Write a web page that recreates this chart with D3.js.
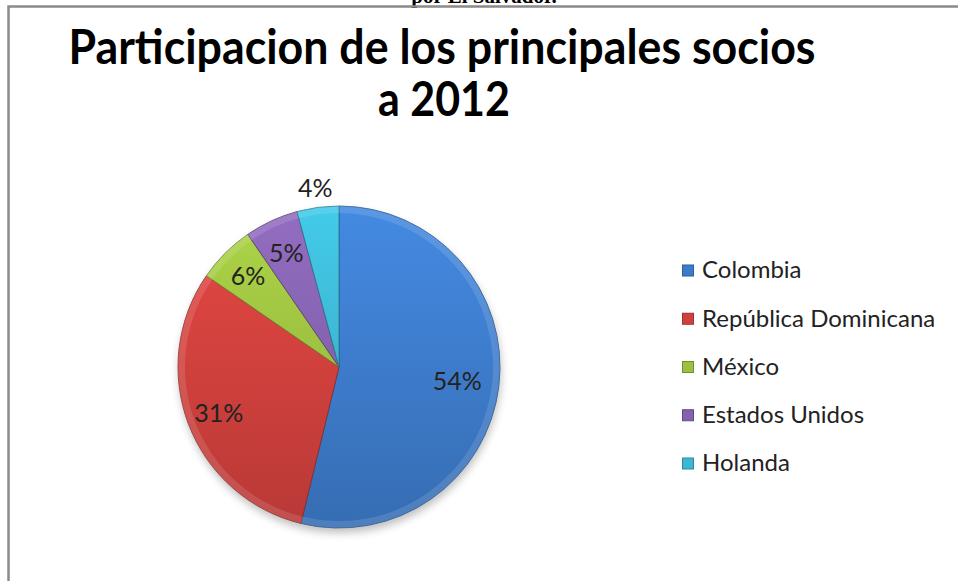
<!DOCTYPE html>
<html>
<head>
<meta charset="utf-8">
<script src="https://cdn.jsdelivr.net/npm/d3@7"></script>
<style>
  html, body { margin: 0; padding: 0; background: #fff; }
  svg { display: block; }
</style>
</head>
<body>
<script>
const width = 958;
const height = 581;

// data
const countries = ["Colombia", "República Dominicana", "México", "Estados Unidos", "Holanda"];
const shares = [53.8, 30.8, 5.8, 5.4, 4.2];
const labels = ["54%", "31%", "6%", "5%", "4%"];
const colors = ["#3d7ccb", "#d0413d", "#9cc041", "#8462ae", "#3cb6d2"];
const titleLines = ["Participacion de los principales socios", "a 2012"];

const svg = d3.select("body").append("svg")
    .attr("width", width)
    .attr("height", height)
    .style("font-family", "Lato, 'Open Sans', sans-serif");

const defs = svg.append("defs");

// caption of the page above, cut by the top edge
svg.append("text")
    .attr("x", 484)
    .attr("y", 3)
    .attr("text-anchor", "middle")
    .style("font-family", "'Liberation Serif', serif")
    .style("font-weight", "bold")
    .style("font-size", "21px")
    .text("por El Salvador.");

// chart frame
svg.append("path")
    .attr("d", `M8.5,${height + 5} V6.5 H${width + 5}`)
    .attr("fill", "none")
    .attr("stroke", "#8a8a8a")
    .attr("stroke-width", 2.5);

// title
svg.append("text")
    .attr("x", 442)
    .attr("y", 64)
    .attr("text-anchor", "middle")
    .attr("textLength", 747)
    .attr("lengthAdjust", "spacingAndGlyphs")
    .style("font-weight", "bold")
    .style("font-size", "47px")
    .text(titleLines[0]);

svg.append("text")
    .attr("x", 444)
    .attr("y", 116)
    .attr("text-anchor", "middle")
    .attr("textLength", 132)
    .attr("lengthAdjust", "spacingAndGlyphs")
    .style("font-weight", "bold")
    .style("font-size", "47px")
    .text(titleLines[1]);

// pie
const cx = 339, cy = 367, radius = 161;

const pie = d3.pie().sort(null).value(d => d);
const arcs = pie(shares);

const arc = d3.arc().innerRadius(0).outerRadius(radius);
const rim = d3.arc().innerRadius(radius - 7).outerRadius(radius);

// soft shadow
const shadow = defs.append("filter").attr("id", "shadow")
    .attr("x", "-20%").attr("y", "-20%").attr("width", "140%").attr("height", "140%");
shadow.append("feGaussianBlur").attr("stdDeviation", 4);

svg.append("circle")
    .attr("cx", cx + 1)
    .attr("cy", cy + 5)
    .attr("r", radius)
    .attr("fill", "#000")
    .attr("opacity", 0.25)
    .attr("filter", "url(#shadow)");

colors.forEach((c, i) => {
  const g = defs.append("linearGradient")
      .attr("id", "grad" + i)
      .attr("gradientUnits", "userSpaceOnUse")
      .attr("x1", 0).attr("y1", -radius)
      .attr("x2", 0).attr("y2", radius);
  g.append("stop").attr("offset", "0%").attr("stop-color", d3.color(c).brighter(0.3));
  g.append("stop").attr("offset", "100%").attr("stop-color", d3.color(c).darker(0.35));
});

const g = svg.append("g").attr("transform", `translate(${cx},${cy})`);

g.selectAll("path.slice")
  .data(arcs)
  .join("path")
    .attr("class", "slice")
    .attr("d", arc)
    .attr("fill", (d, i) => `url(#grad${i})`)
    .attr("stroke", (d, i) => d3.color(colors[i]).darker(1.2))
    .attr("stroke-width", 0.8);

// bevel highlight along the outer edge
g.selectAll("path.rim")
  .data(arcs)
  .join("path")
    .attr("class", "rim")
    .attr("d", rim)
    .attr("fill", "#fff")
    .attr("opacity", 0.12);

// data labels: inside the slice, except the smallest one outside
const labelRadius = [0.74, 0.8, 0.8, 0.78, 1.12];

g.selectAll("text.lbl")
  .data(arcs)
  .join("text")
    .attr("class", "lbl")
    .attr("transform", (d, i) => {
      const a = (d.startAngle + d.endAngle) / 2;
      const r = radius * labelRadius[i];
      return `translate(${Math.sin(a) * r},${-Math.cos(a) * r})`;
    })
    .attr("text-anchor", "middle")
    .attr("dy", "0.35em")
    .style("font-size", "25px")
    .style("fill", "#222")
    .text((d, i) => labels[i]);

// legend
const legendY = d3.scalePoint().domain(countries).range([270, 463]);

const legend = svg.append("g")
  .selectAll("g")
  .data(countries)
  .join("g")
    .attr("transform", d => `translate(682,${legendY(d)})`);

legend.append("rect")
    .attr("x", 0.5)
    .attr("y", -5)
    .attr("width", 11)
    .attr("height", 11)
    .attr("fill", (d, i) => colors[i])
    .attr("stroke", (d, i) => d3.color(colors[i]).darker(0.8))
    .attr("stroke-width", 1);

legend.append("text")
    .attr("x", 20)
    .attr("dy", "0.35em")
    .style("font-size", "24px")
    .style("fill", "#222")
    .text(d => d);
</script>
</body>
</html>
